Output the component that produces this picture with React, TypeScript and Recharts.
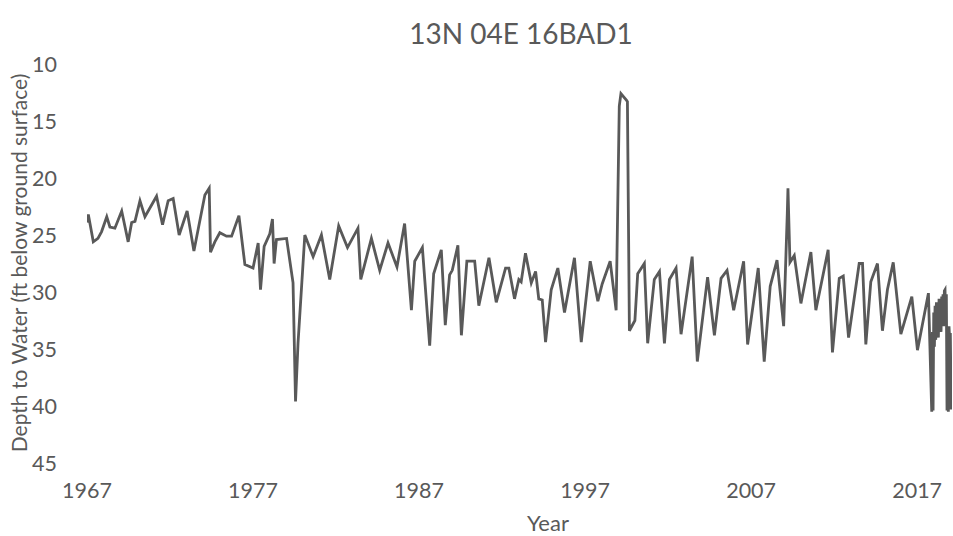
import { LineChart, Line, XAxis, YAxis } from "recharts";

const GRAY = "#595959";
const FONT = "Lato, 'Open Sans', sans-serif";

const TITLE = "13N 04E 16BAD1";
const Y_TITLE = "Depth to Water (ft below ground surface)";
const X_TITLE = "Year";

const yearTicks = [1967, 1977, 1987, 1997, 2007, 2017];
const depthTicks = [10, 15, 20, 25, 30, 35, 40, 45];

// measurement dates (decimal years) and depth to water (ft)
const years = [
  1967.0, 1967.08, 1967.38, 1967.66, 1967.88, 1968.19, 1968.38, 1968.68, 1969.09, 1969.48,
  1969.69, 1969.89, 1970.19, 1970.49, 1971.19, 1971.55, 1971.89, 1972.19, 1972.55, 1973.03,
  1973.44, 1974.1, 1974.36, 1974.44, 1974.7, 1975.0, 1975.4, 1975.71, 1976.15, 1976.51,
  1977.0, 1977.31, 1977.45, 1977.67, 1978.01, 1978.17, 1978.27, 1978.41, 1979.02, 1979.41,
  1979.56, 1979.71, 1980.12, 1980.62, 1981.12, 1981.62, 1982.16, 1982.69, 1983.32, 1983.49,
  1984.13, 1984.63, 1985.13, 1985.67, 1986.13, 1986.54, 1986.74, 1987.2, 1987.64, 1987.88,
  1988.34, 1988.58, 1988.84, 1989.0, 1989.34, 1989.55, 1989.88, 1990.35, 1990.6, 1991.21,
  1991.65, 1992.21, 1992.41, 1992.75, 1993.01, 1993.15, 1993.41, 1993.76, 1994.02, 1994.21,
  1994.42, 1994.62, 1994.96, 1995.36, 1995.76, 1996.36, 1996.77, 1997.31, 1997.77, 1998.03,
  1998.51, 1998.87, 1999.06, 1999.16, 1999.5, 1999.55, 1999.67, 2000.0, 2000.17, 2000.57,
  2000.77, 2001.17, 2001.48, 2001.78, 2002.08, 2002.48, 2002.78, 2003.45, 2003.76, 2004.38,
  2004.79, 2005.19, 2005.55, 2005.95, 2006.55, 2006.79, 2007.43, 2007.79, 2008.15, 2008.56,
  2008.96, 2009.18, 2009.22, 2009.34, 2009.6, 2010.0, 2010.6, 2010.9, 2011.64, 2011.9,
  2012.31, 2012.55, 2012.87, 2013.51, 2013.71, 2013.91, 2014.21, 2014.61, 2014.91, 2015.21,
  2015.56, 2016.02, 2016.68, 2017.02, 2017.68, 2017.88, 2017.92, 2017.96, 2018.0, 2018.04,
  2018.08, 2018.12, 2018.16, 2018.2, 2018.24, 2018.28, 2018.32, 2018.36, 2018.4, 2018.44,
  2018.48, 2018.52, 2018.56, 2018.6, 2018.64, 2018.68, 2018.72, 2018.76, 2018.8, 2018.84,
  2018.88, 2018.92, 2018.96, 2019.0, 2019.05,
];

const depths = [
  23.9, 23.2, 25.6, 25.3, 24.7, 23.4, 24.3, 24.4, 22.9, 25.6,
  23.9, 23.8, 22.0, 23.4, 21.6, 24.1, 22.0, 21.8, 25.0, 22.9,
  26.4, 21.5, 20.9, 26.5, 25.6, 24.8, 25.1, 25.1, 23.3, 27.6,
  27.9, 25.7, 29.8, 26.0, 24.9, 23.6, 27.5, 25.4, 25.3, 29.2,
  39.6, 34.5, 25.0, 26.9, 25.0, 28.9, 24.2, 26.1, 24.4, 28.9,
  25.3, 28.1, 25.7, 27.8, 24.0, 31.6, 27.3, 26.1, 34.7, 28.4,
  26.3, 32.9, 28.5, 28.1, 25.9, 33.8, 27.3, 27.3, 31.2, 27.0,
  30.9, 27.9, 27.9, 30.6, 28.9, 29.1, 26.6, 29.2, 28.2, 30.6,
  30.7, 34.4, 29.8, 27.9, 31.8, 27.0, 34.4, 27.3, 30.8, 29.3,
  27.3, 31.6, 13.7, 12.6, 13.2, 13.3, 33.4, 32.5, 28.4, 27.5,
  34.5, 28.9, 28.2, 34.5, 28.9, 27.9, 33.7, 26.9, 36.1, 28.7,
  33.8, 28.8, 28.1, 31.6, 27.3, 34.6, 27.9, 36.1, 29.5, 27.2,
  33.0, 23.1, 20.9, 27.4, 26.8, 31.0, 26.5, 31.6, 26.3, 35.3,
  28.8, 28.6, 34.0, 27.5, 27.5, 34.6, 29.1, 27.5, 33.4, 29.8,
  27.4, 33.7, 30.4, 35.1, 30.1, 40.5, 33.5, 40.4, 31.8, 34.8,
  31.2, 34.2, 30.9, 33.6, 31.0, 34.0, 30.6, 33.2, 30.8, 33.5,
  30.4, 32.8, 30.2, 33.0, 29.9, 29.8, 32.6, 30.2, 40.4, 33.4,
  40.5, 33.0, 34.2, 33.6, 40.3,
];

const data = years.map((year, i) => ({ year, depth: depths[i] }));

const W = 953;
const H = 536;

export default function App() {
  return (
    <div style={{ position: "absolute", top: 0, left: 0, width: W, height: H, background: "#fff" }}>
      <LineChart width={W} height={H} data={data} margin={{ top: 64, right: 1, bottom: 0, left: 0 }}>
        <XAxis
          dataKey="year"
          type="number"
          domain={[1967, 2019.1]}
          ticks={yearTicks}
          allowDataOverflow
          axisLine={false}
          tickLine={false}
          tickSize={0}
          tickMargin={20}
          height={73}
          tick={{ fill: GRAY, fontSize: 21.5, fontFamily: FONT }}
        />
        <YAxis
          type="number"
          reversed
          domain={[10, 45]}
          ticks={depthTicks}
          allowDataOverflow
          axisLine={false}
          tickLine={false}
          tickSize={0}
          tickMargin={30}
          width={87}
          tick={{ fill: GRAY, fontSize: 21.5, fontFamily: FONT }}
        />
        <Line
          type="linear"
          dataKey="depth"
          stroke={GRAY}
          strokeWidth={2.8}
          dot={false}
          isAnimationActive={false}
        />
      </LineChart>

      {/* titles */}
      <svg width={W} height={H} style={{ position: "absolute", top: 0, left: 0, pointerEvents: "none" }}>
        <text x={521} y={33} textAnchor="middle" dominantBaseline="central"
          fill={GRAY} fontSize={28} fontFamily={FONT}>
          {TITLE}
        </text>
        <text x={18} y={263} textAnchor="middle" dominantBaseline="central"
          transform="rotate(-90, 18, 263)" fill={GRAY} fontSize={21} fontFamily={FONT}>
          {Y_TITLE}
        </text>
        <text x={548} y={522} textAnchor="middle" dominantBaseline="central"
          fill={GRAY} fontSize={22} fontFamily={FONT}>
          {X_TITLE}
        </text>
      </svg>
    </div>
  );
}
